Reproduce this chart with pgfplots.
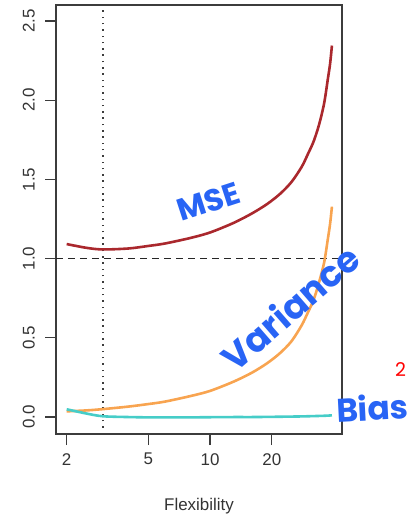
\documentclass[border=0pt]{standalone}
\usepackage{fontspec}
\setmainfont{Liberation Sans}
\newfontfamily\handfont{Poppins}
\usepackage{pgfplots}
\usepackage{pgfplotstable}
\usetikzlibrary{calc}
\pgfplotsset{compat=1.18}

\definecolor{msecol}{RGB}{170,40,45}
\definecolor{varcol}{RGB}{248,164,80}
\definecolor{biascol}{RGB}{70,205,200}
\definecolor{penblue}{RGB}{40,100,245}
\definecolor{axiscol}{RGB}{60,60,60}

% test MSE, variance and squared bias against flexibility
\pgfplotstableread{
x     mse    var    bias
2     1.092  0.036  0.049
2.5   1.068  0.042  0.022
3     1.058  0.050  0.005
4     1.064  0.066  0.000
5     1.080  0.082  -0.002
6     1.095  0.097  -0.002
8     1.130  0.132  -0.002
10    1.165  0.165  -0.001
13    1.225  0.223  0.000
16    1.285  0.280  0.000
19    1.345  0.340  0.001
22    1.410  0.405  0.002
25    1.485  0.480  0.003
28    1.580  0.580  0.004
30    1.660  0.660  0.005
32    1.740  0.740  0.006
34    1.845  0.850  0.007
36    1.980  0.975  0.008
37.5  2.130  1.120  0.009
38.5  2.230  1.220  0.010
39.3  2.345  1.328  0.011
}\curves

\begin{document}
\begin{tikzpicture}
\begin{axis}[
  name=ax,
  scale only axis,
  width=286bp, height=429bp,
  xmode=log,
  xmin=1.774, xmax=44.0,
  ymin=-0.107, ymax=2.601,
  xtick={2,5,10,20}, xticklabels={2,5,10,20},
  minor xtick={},
  ytick={0,0.5,1,1.5,2,2.5},
  yticklabels={0.0,0.5,1.0,1.5,2.0,2.5},
  tick pos=left,
  tick align=outside,
  major tick length=11bp,
  axis line style={line width=1.2bp, axiscol},
  every tick/.style={line width=1.2bp, axiscol},
  tick label style={font=\fontsize{17}{20}\selectfont, text=black!80},
  /pgf/number format/assume math mode=true,
  xticklabel style={inner ysep=8bp},
  yticklabel style={rotate=90, anchor=south, inner ysep=10bp},
  xlabel={Flexibility},
  xlabel style={font=\fontsize{17}{20}\selectfont, text=black!80,
    at={(rel axis cs:0.5,0)}, anchor=center, yshift=-72bp},
  clip=false,
]
% reference lines
\addplot[axiscol, line width=1.5bp, dash pattern=on 1.5bp off 4.8bp]
  coordinates {(3,-0.107) (3,2.601)};
\addplot[black!85, line width=1.6bp, dash pattern=on 7bp off 5bp]
  coordinates {(1.774,1) (44.0,1)};
% curves
\addplot[msecol, line width=2.6bp, smooth] table[x=x, y=mse] {\curves};
\addplot[varcol, line width=2.6bp, smooth] table[x=x, y=var] {\curves};
\addplot[biascol, line width=2.6bp, smooth] table[x=x, y=bias] {\curves};
% pen annotations
\node[penblue, rotate=18] at (axis cs:9.8,1.36)
  {\handfont\bfseries\fontsize{31}{33}\selectfont MSE};
\node[penblue, rotate=41] at (axis cs:24.5,0.69)
  {\handfont\bfseries\fontsize{36}{38}\selectfont Variance};
\node[penblue, rotate=3] at (axis cs:62,0.06)
  {\handfont\bfseries\fontsize{33}{35}\selectfont Bias};
\node[red] at (axis cs:85,0.30)
  {\handfont\fontsize{19}{21}\selectfont 2};
\end{axis}
\pgfresetboundingbox
\path[use as bounding box] ($(ax.south west)+(-56bp,-82bp)$) rectangle ($(ax.north east)+(67bp,5bp)$);
\end{tikzpicture}
\end{document}
